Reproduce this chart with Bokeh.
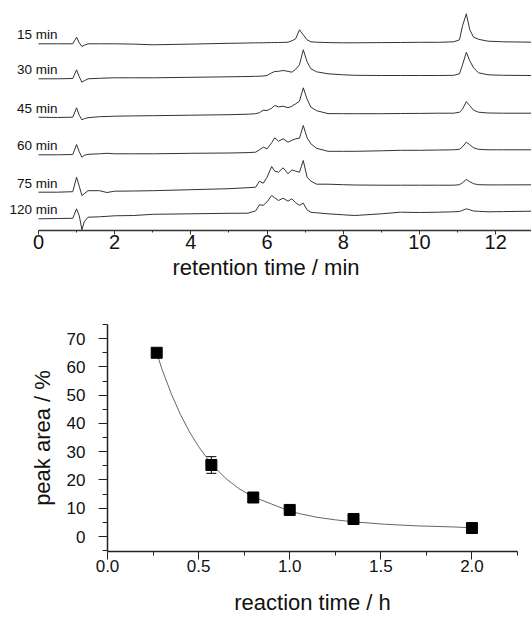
from bokeh.plotting import figure
from bokeh.layouts import column
from bokeh.models import (ColumnDataSource, FixedTicker, Whisker, TeeHead,
                          PrintfTickFormatter, Range1d)
from bokeh.core.properties import value
from bokeh.embed import file_html
from bokeh.resources import INLINE

# ---------------- top panel: chromatograms ----------------
retention_min = [0.0, 0.5, 0.9, 1.0, 1.07, 1.14, 1.2, 1.3, 1.6, 1.8, 2.0, 2.5, 3.0,
                 4.0, 5.0, 5.5, 5.7, 5.8, 5.9, 6.0,
                 6.12, 6.2, 6.3, 6.42, 6.55, 6.65, 6.75, 6.85,
                 6.95, 7.05, 7.15, 7.3, 7.6, 8.0, 8.3, 9.0,
                 9.5, 10.0, 10.5, 10.9, 11.05, 11.13, 11.23,
                 11.32, 11.42, 11.55, 11.8, 12.2, 12.95]

trace_labels = ["15 min", "30 min", "45 min", "60 min", "75 min", "120 min"]

signal_15 = [0, 0, 0, 6.6, 1.0, -2.7, -1.5, 0, 0, 0, 0, -0.3, -1.0,
             -0.3, 0.5, 0.8, 1.0, 1.0, 1.0, 1.2,
             1.2, 1.3, 1.3, 1.4, 1.6, 3.0, 5.0, 14.0,
             9.0, 4.0, 2.0, 1.6, 1.2, 1.0, 1.0, 1.2,
             1.3, 1.5, 1.5, 2.0, 4.0, 18.0, 30.0,
             14.0, 6.6, 4.5, 2.6, 2.0, 1.6]
signal_30 = [0, 0, 0.3, 9.0, 2.0, -3.4, -2.0, 0, 0.5, 0.8, 1.0, 1.0, 1.0,
             1.5, 2.0, 2.3, 2.5, 2.6, 2.8, 3.3,
             6.0, 7.3, 7.5, 8.3, 7.5, 6.6, 9.5, 14.0,
             29.0, 17.0, 10.0, 7.0, 5.0, 4.0, 3.5, 3.3,
             3.3, 3.3, 3.3, 3.5, 5.0, 14.0, 26.6,
             18.0, 11.0, 6.0, 4.0, 3.5, 3.3]
signal_45 = [0, -0.3, 0, 9.4, 2.0, -2.6, -1.5, -0.5, 0.5, 0.7, 1.0, 1.3, 1.5,
             2.0, 2.5, 3.0, 3.5, 4.5, 7.0, 6.7,
             9.0, 11.7, 10.3, 11.0, 9.5, 11.0, 13.4, 16.0,
             29.4, 18.0, 10.0, 6.5, 3.6, 3.5, 3.5, 3.5,
             3.7, 3.8, 4.0, 4.0, 5.0, 8.0, 15.7,
             11.5, 7.0, 5.0, 4.2, 4.0, 4.0]
signal_60 = [0, 0, 0.3, 10.3, 3.0, -2.4, -0.5, 0.5, 1.0, 1.5, 1.0, 1.0, 1.0,
             1.5, 1.8, 2.2, 2.6, 5.0, 7.6, 6.0,
             12.0, 17.0, 13.6, 16.0, 12.6, 14.5, 16.0, 16.6,
             29.3, 17.0, 11.0, 6.5, 3.5, 3.5, 3.5, 4.0,
             4.5, 4.5, 4.8, 5.0, 5.5, 8.0, 12.6,
             10.0, 7.0, 5.5, 5.0, 5.0, 5.0]
signal_75 = [0, 0, 0.5, 15.0, 6.0, -3.3, -1.5, 1.5, 1.5, -0.3, 1.0, 1.2, 1.5,
             2.5, 3.5, 4.5, 5.0, 11.0, 9.0, 15.0,
             25.7, 21.0, 20.0, 24.4, 18.4, 22.4, 21.0, 20.0,
             31.7, 15.0, 11.0, 8.0, 8.0, 7.5, 7.2, 7.0,
             7.0, 7.0, 7.0, 7.0, 7.5, 9.5, 12.7,
             10.5, 8.5, 7.5, 7.3, 7.3, 7.4]
signal_120 = [0, 0.3, 0.5, 10.0, 3.0, -11.0, -3.0, 1.6, 2.0, 2.5, 3.0, 3.3, 4.5,
              5.0, 5.5, 5.6, 8.0, 14.0, 13.5, 17.0,
              23.3, 21.0, 18.3, 20.6, 17.6, 20.0, 16.0, 13.5,
              15.6, 9.0, 6.5, 6.0, 5.0, 4.0, 3.3, 5.0,
              6.6, 6.3, 6.6, 7.0, 7.3, 8.5, 10.0,
              9.0, 7.8, 7.5, 7.0, 7.2, 7.6]

signals = [signal_15, signal_30, signal_45, signal_60, signal_75, signal_120]
trace_offsets = [186.2, 151.2, 112.8, 75.2, 37.8, 11.2]

# ---------------- bottom panel: kinetics ----------------
reaction_time_h = [0.27, 0.57, 0.80, 1.00, 1.35, 2.00]
peak_area_pct = [65.0, 25.3, 13.8, 9.4, 6.2, 3.0]
peak_area_err = [0.0, 2.95, 0.0, 0.0, 0.0, 0.0]

fit_time_h = [0.27, 0.30, 0.35, 0.40, 0.45, 0.50, 0.57, 0.65, 0.72, 0.80,
              0.90, 1.00, 1.06, 1.15, 1.25, 1.35, 1.52, 1.70, 1.89, 2.00]
fit_area_pct = [65.0, 59.0, 50.5, 43.2, 37.0, 31.8, 25.6, 20.5, 17.0, 14.0,
                11.5, 9.0, 8.0, 6.8, 5.9, 5.2, 4.35, 3.76, 3.4, 3.1]

FONT = "Liberation Sans"
TRACE_COLOR = "#333333"

# ---------- top figure ----------
p1 = figure(width=531, height=288, x_range=Range1d(-0.997, 12.94),
            y_range=Range1d(-0.5, 229.5), output_backend="svg",
            toolbar_location=None, y_axis_location=None,
            min_border_left=0, min_border_right=0, min_border_top=0,
            min_border_bottom=58)
p1.frame_align = False
p1.grid.visible = False
p1.outline_line_color = None

for sig, off in zip(signals, trace_offsets):
    src = ColumnDataSource(dict(x=retention_min, y=[v + off for v in sig]))
    p1.line("x", "y", source=src, line_color=TRACE_COLOR, line_width=1)

lab_src = ColumnDataSource(dict(x=[0.5] * len(trace_labels),
                                y=[o + 9 for o in trace_offsets],
                                t=trace_labels))
p1.text("x", "y", text="t", source=lab_src, text_align="right",
        text_baseline="middle", text_font=value(FONT),
        text_font_size="13.5px", text_color="#111111")

xa = p1.xaxis[0]
xa.bounds = (0, 13)
xa.ticker = FixedTicker(ticks=[0, 2, 4, 6, 8, 10, 12],
                        minor_ticks=[1, 3, 5, 7, 9, 11])
xa.axis_label = "retention time / min"
xa.axis_label_text_font = FONT
xa.axis_label_text_font_style = "normal"
xa.axis_label_text_font_size = "22px"
xa.axis_label_text_color = "#111111"
xa.axis_label_standoff = 3
xa.major_label_text_font = FONT
xa.major_label_text_font_size = "20px"
xa.major_label_text_color = "#111111"
xa.major_label_standoff = 0
xa.major_tick_in = 0
xa.major_tick_out = 4
xa.minor_tick_in = 0
xa.minor_tick_out = 2
xa.axis_line_width = 1.5
xa.axis_line_color = "#333333"
xa.major_tick_line_color = "#333333"
xa.minor_tick_line_color = "#333333"

# ---------- bottom figure ----------
p2 = figure(width=531, height=329, x_range=Range1d(0, 2.25),
            y_range=Range1d(-5.3, 75), output_backend="svg",
            toolbar_location=None,
            min_border_left=107, min_border_right=14, min_border_top=36,
            min_border_bottom=65)
p2.frame_align = False
p2.grid.visible = False
p2.outline_line_color = None

p2.line(fit_time_h, fit_area_pct, line_color="#666666", line_width=1)

err_src = ColumnDataSource(dict(
    x=[t for t, e in zip(reaction_time_h, peak_area_err) if e > 0],
    lo=[a - e for a, e in zip(peak_area_pct, peak_area_err) if e > 0],
    hi=[a + e for a, e in zip(peak_area_pct, peak_area_err) if e > 0]))
wh = Whisker(base="x", lower="lo", upper="hi", source=err_src,
             line_color="black", line_width=1,
             lower_head=TeeHead(size=10, line_color="black", line_width=1),
             upper_head=TeeHead(size=10, line_color="black", line_width=1))
p2.add_layout(wh)

p2.scatter(reaction_time_h, peak_area_pct, marker="square", size=11,
           fill_color="black", line_color="black")

bx = p2.xaxis[0]
bx.ticker = FixedTicker(ticks=[0.0, 0.5, 1.0, 1.5, 2.0],
                        minor_ticks=[0.25, 0.75, 1.25, 1.75, 2.25])
bx.formatter = PrintfTickFormatter(format="%.1f")
bx.axis_label = "reaction time / h"
by = p2.yaxis[0]
by.ticker = FixedTicker(ticks=[0, 10, 20, 30, 40, 50, 60, 70],
                        minor_ticks=[-5, 5, 15, 25, 35, 45, 55, 65, 75])
by.axis_label = "peak area / %"

for ax in (bx, by):
    ax.axis_label_text_font = FONT
    ax.axis_label_text_font_style = "normal"
    ax.axis_label_text_font_size = "22px"
    ax.axis_label_text_color = "#111111"
    ax.major_label_text_font = FONT
    ax.major_label_text_font_size = "17px"
    ax.major_label_text_color = "#111111"
    ax.major_tick_in = 0
    ax.minor_tick_in = 0
    ax.axis_line_width = 1.5
    ax.axis_line_color = "#222222"
    ax.major_tick_line_color = "#222222"
    ax.minor_tick_line_color = "#222222"

bx.major_tick_out = 8
bx.minor_tick_out = 4
bx.major_label_standoff = 0
bx.axis_label_standoff = 15
by.major_tick_out = 9
by.minor_tick_out = 5
by.major_label_standoff = 13
by.axis_label_standoff = 9

layout = column(p1, p2, spacing=0)
open("out.html", "w").write(file_html(layout, INLINE))
